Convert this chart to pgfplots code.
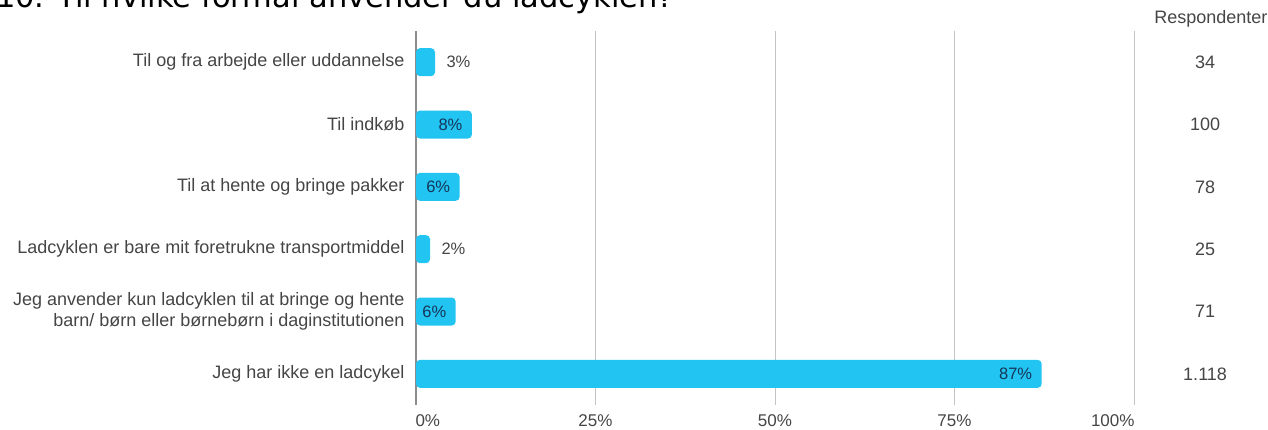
\documentclass[border=0pt]{standalone}
\usepackage{pgfplots}
\pgfplotsset{compat=1.18}
\usepackage{fontspec}
\setmainfont{Liberation Sans}
\newfontfamily\titlefont{DejaVu Sans}

\definecolor{barblue}{HTML}{22C4F2}
\definecolor{gridgray}{HTML}{C4C4C4}
\definecolor{zerogray}{HTML}{8C8C8C}
\definecolor{txt}{HTML}{454545}
\definecolor{inlbl}{HTML}{15365A}

\newcommand{\lblfont}{\fontsize{18bp}{21bp}\selectfont}
\newcommand{\tickfont}{\fontsize{17bp}{20bp}\selectfont}
\newcommand{\valfont}{\fontsize{16.5bp}{19bp}\selectfont}

\begin{document}
\begin{tikzpicture}
\begin{axis}[
	at={(416bp,-405bp)},
	anchor=south west,
	scale only axis,
	width=718bp,
	height=374bp,
	xmin=0, xmax=100,
	ymin=-0.5, ymax=5.5,
	y dir=reverse,
	clip=false,
	axis line style={draw=none},
	major tick length=0pt,
	xtick={25,50,75,100},
	xticklabels={25\%,50\%,75\%,{}},
	extra x ticks={0},
	extra x tick labels={},
	extra x tick style={grid style={draw=zerogray, line width=1.2bp}},
	xmajorgrids=true,
	grid style={draw=gridgray, line width=1bp},
	xticklabel style={font=\tickfont, text=txt, anchor=north, yshift=-6bp},
	ytick={0,1,2,3,4,5},
	yticklabels={
		Til og fra arbejde eller uddannelse,
		Til indkøb,
		Til at hente og bringe pakker,
		Ladcyklen er bare mit foretrukne transportmiddel,
		{Jeg anvender kun ladcyklen til at bringe og hente\\barn/ børn eller børnebørn i daginstitutionen},
		Jeg har ikke en ladcykel},
	yticklabel style={font=\lblfont, text=txt, align=right, xshift=-8bp},
]

\addplot[xbar, fill=barblue, draw=none, bar width=28bp, rounded corners=4bp]
coordinates {
(2.65,0) (7.79,1) (6.08,2) (1.95,3) (5.53,4) (87.14,5)
};

% end tick labels sit inside the outer grid lines
\node[anchor=north west, font=\tickfont, text=txt, xshift=-4bp, yshift=-6bp] at (axis cs:0,5.5) {0\%};
\node[anchor=north east, font=\tickfont, text=txt, xshift=4bp, yshift=-6bp] at (axis cs:100,5.5) {100\%};

% value labels
\node[anchor=west, xshift=8bp, font=\valfont, text=txt] at (axis cs:2.65,0) {3\%};
\node[anchor=east, xshift=-6bp, font=\valfont, text=inlbl] at (axis cs:7.79,1) {8\%};
\node[anchor=east, xshift=-6bp, font=\valfont, text=inlbl] at (axis cs:6.08,2) {6\%};
\node[anchor=west, xshift=8bp, font=\valfont, text=txt] at (axis cs:1.95,3) {2\%};
\node[anchor=east, xshift=-6bp, font=\valfont, text=inlbl] at (axis cs:5.53,4) {6\%};
\node[anchor=east, xshift=-6bp, font=\valfont, text=inlbl] at (axis cs:87.14,5) {87\%};

% respondents column
\node[font=\lblfont, text=txt, yshift=12bp] at (axis cs:110.7,-0.5) {Respondenter};
\node[font=\lblfont, text=txt] at (axis cs:109.9,0) {34};
\node[font=\lblfont, text=txt] at (axis cs:109.9,1) {100};
\node[font=\lblfont, text=txt] at (axis cs:109.9,2) {78};
\node[font=\lblfont, text=txt] at (axis cs:109.9,3) {25};
\node[font=\lblfont, text=txt] at (axis cs:109.9,4) {71};
\node[font=\lblfont, text=txt] at (axis cs:109.9,5) {1.118};
\end{axis}

% title, cut off by the top edge as in the reference
\node[anchor=base west, inner sep=0pt, font=\titlefont\fontsize{30.5bp}{35bp}\selectfont]
	at (-4bp,-7bp) {10. Til hvilke formål anvender du ladcyklen?};

\pgfresetboundingbox
\path[use as bounding box] (0,0) rectangle (1268bp,-430bp);
\end{tikzpicture}
\end{document}
